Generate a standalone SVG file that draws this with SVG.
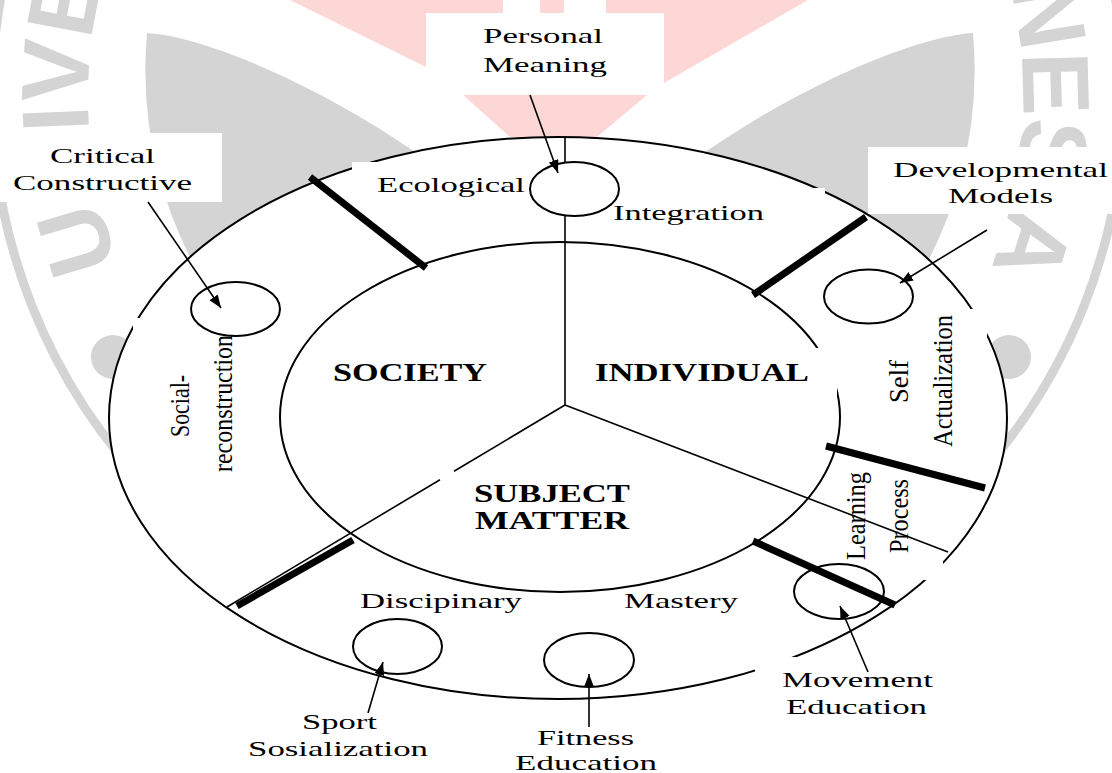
<svg xmlns="http://www.w3.org/2000/svg" width="1112" height="773" viewBox="0 0 1112 773">
<defs>
<style>
.wm{fill:#d4d4d4}
.pk{fill:#fdd6d6}
.box{fill:#fff;stroke:none}
.el{stroke:#000;fill:#fff;stroke-width:2}
.ln{stroke:#000;fill:none;stroke-width:1.6}
.bar{stroke:#000;stroke-width:7;fill:none}
.t{font-family:"Liberation Serif","Times New Roman",serif;font-size:22px;fill:#000}
.b{font-family:"Liberation Serif","Times New Roman",serif;font-size:25px;font-weight:bold;fill:#000}
.wt{font-family:"Liberation Sans",Arial,sans-serif;font-size:95px;font-weight:bold;fill:#d4d4d4;text-anchor:middle}
.arr{stroke:#000;stroke-width:1.6;fill:none;marker-end:url(#ah)}
</style>
<marker id="ah" markerUnits="userSpaceOnUse" markerWidth="14" markerHeight="12" refX="13" refY="5" orient="auto"><path d="M0,0 L13,5 L0,10 z" fill="#000"/></marker>
</defs>
<rect width="1112" height="773" fill="#fff"/>
<g id="watermark">
<circle cx="558" cy="97" r="566" fill="none" stroke="#d4d4d4" stroke-width="9"/>
<circle cx="113" cy="357" r="22" class="wm"/>
<circle cx="1009" cy="357" r="22" class="wm"/>
<path class="wm" d="M147,33 C200,36 310,80 415,152 L430,300 L215,300 A415,415 0 0,1 147,33 Z"/>
<path class="wm" d="M973,33 C920,36 810,80 705,152 L690,300 L905,300 A415,415 0 0,0 973,33 Z"/>
<polygon class="pk" points="290,0 808,0 664,83 426,67"/>
<rect x="503" y="0" width="37" height="14" fill="#fff"/>
<rect x="564" y="0" width="42" height="14" fill="#fff"/>
<polygon class="pk" points="463,95 647,95 597,137 560,150 510,137"/>
<text class="wt" x="107.6" y="231.3" transform="rotate(253.4 107.6 231.3)">U</text>
<text class="wt" x="88.4" y="117.5" transform="rotate(267.5 88.4 117.5)">I</text>
<text class="wt" x="88.6" y="72.7" transform="rotate(272.96 88.6 72.7)">V</text>
<text class="wt" x="96.3" y="9.3" transform="rotate(280.76 96.3 9.3)">E</text>
<text class="wt" x="1016.4" y="19.2" transform="rotate(80.37 1016.4 19.2)">N</text>
<text class="wt" x="1022.8" y="84.4" transform="rotate(88.45 1022.8 84.4)">E</text>
<text class="wt" x="1020.2" y="147.6" transform="rotate(96.25 1020.2 147.6)">S</text>
<text class="wt" x="1001.9" y="235.4" transform="rotate(107.31 1001.9 235.4)">A</text>
</g>
<g id="wheel">
<ellipse id="outer-ring" cx="558" cy="418" rx="449" ry="281" class="el"/>
<ellipse id="inner-core" cx="560" cy="417" rx="280" ry="175" class="el"/>
</g>
<g id="personal-meaning-label"><rect class="box" x="426" y="13" width="238" height="82"/>
<text class="t" x="483" y="43" textLength="120" lengthAdjust="spacingAndGlyphs">Personal</text>
<text class="t" x="483" y="72" textLength="124" lengthAdjust="spacingAndGlyphs">Meaning</text></g>
<g id="critical-constructive-label"><rect class="box" x="0" y="133" width="222" height="69"/>
<text class="t" x="50" y="163" textLength="105" lengthAdjust="spacingAndGlyphs">Critical</text>
<text class="t" x="13" y="190" textLength="179" lengthAdjust="spacingAndGlyphs">Constructive</text></g>
<g id="developmental-models-label"><rect class="box" x="868" y="147" width="244" height="67"/>
<text class="t" x="893" y="177" textLength="215" lengthAdjust="spacingAndGlyphs">Developmental</text>
<text class="t" x="948" y="203" textLength="105" lengthAdjust="spacingAndGlyphs">Models</text></g>
<g id="ecological"><rect class="box" x="352" y="162" width="176" height="42"/>
<text class="t" x="377" y="192" textLength="148" lengthAdjust="spacingAndGlyphs">Ecological</text></g>
<g id="integration"><rect class="box" x="600" y="188" width="225" height="40"/>
<text class="t" x="613" y="220" textLength="151" lengthAdjust="spacingAndGlyphs">Integration</text></g>
<g id="social-reconstruction"><rect class="box" x="133" y="318" width="117" height="160"/>
<text class="t" transform="translate(189,437) scale(1.2,1) rotate(-90)" textLength="62" lengthAdjust="spacingAndGlyphs">Social-</text>
<text class="t" transform="translate(232,472) scale(1.2,1) rotate(-90)" textLength="137" lengthAdjust="spacingAndGlyphs">reconstruction</text></g>
<g id="self-actualization"><rect class="box" x="880" y="309" width="107" height="186"/>
<text class="t" transform="translate(908,403) scale(1.2,1) rotate(-90)" textLength="43" lengthAdjust="spacingAndGlyphs">Self</text>
<text class="t" transform="translate(952,447) scale(1.2,1) rotate(-90)" textLength="132" lengthAdjust="spacingAndGlyphs">Actualization</text></g>
<g id="learning-process"><rect class="box" x="840" y="470" width="103" height="110"/>
<text class="t" transform="translate(865,560) scale(1.2,1) rotate(-90)" textLength="88" lengthAdjust="spacingAndGlyphs">Learning</text>
<text class="t" transform="translate(908,553) scale(1.2,1) rotate(-90)" textLength="74" lengthAdjust="spacingAndGlyphs">Process</text></g>
<g id="society"><text class="b" x="333" y="381" textLength="154" lengthAdjust="spacingAndGlyphs">SOCIETY</text></g>
<g id="individual"><rect class="box" x="585" y="348" width="252" height="50"/>
<text class="b" x="595" y="381" textLength="214" lengthAdjust="spacingAndGlyphs">INDIVIDUAL</text></g>
<g id="subject-matter">
<text class="b" x="474" y="502" textLength="156" lengthAdjust="spacingAndGlyphs">SUBJECT</text>
<text class="b" x="475" y="529" textLength="154" lengthAdjust="spacingAndGlyphs">MATTER</text></g>
<g id="discipinary"><text class="t" x="360" y="608" textLength="162" lengthAdjust="spacingAndGlyphs">Discipinary</text></g>
<g id="mastery"><text class="t" x="624" y="608" textLength="114" lengthAdjust="spacingAndGlyphs">Mastery</text></g>
<g id="sport-sosialization-label">
<text class="t" x="302" y="729" textLength="75" lengthAdjust="spacingAndGlyphs">Sport</text>
<text class="t" x="248" y="756" textLength="180" lengthAdjust="spacingAndGlyphs">Sosialization</text></g>
<g id="fitness-education-label">
<text class="t" x="537" y="745" textLength="97" lengthAdjust="spacingAndGlyphs">Fitness</text>
<text class="t" x="515" y="770" textLength="142" lengthAdjust="spacingAndGlyphs">Education</text></g>
<g id="movement-education-label"><rect class="box" x="755" y="657" width="185" height="63"/>
<text class="t" x="782" y="687" textLength="151" lengthAdjust="spacingAndGlyphs">Movement</text>
<text class="t" x="786" y="714" textLength="141" lengthAdjust="spacingAndGlyphs">Education</text></g>
<g id="dividers">
<line class="ln" x1="565" y1="137" x2="565" y2="405"/>
<line class="ln" x1="565" y1="405" x2="454" y2="471.3"/>
<line class="ln" x1="440" y1="479.7" x2="227" y2="607"/>
<line class="ln" x1="565" y1="405" x2="948" y2="552"/>
</g>
<g id="circle-personal-meaning"><ellipse class="el" cx="574.5" cy="189" rx="44.5" ry="27"/></g>
<g id="circle-critical-constructive"><ellipse class="el" cx="235.5" cy="309" rx="44.5" ry="27"/></g>
<g id="circle-developmental-models"><ellipse class="el" cx="868.5" cy="296.5" rx="44.5" ry="27"/></g>
<g id="circle-movement-education"><ellipse class="el" cx="839" cy="591.5" rx="45" ry="27.5"/></g>
<g id="circle-fitness-education"><ellipse class="el" cx="589" cy="660" rx="45" ry="27"/></g>
<g id="circle-sport-sosialization"><ellipse class="el" cx="397.5" cy="646.5" rx="44.5" ry="27.5"/></g>
<g id="boundaries">
<line class="bar" x1="310" y1="177" x2="426" y2="268"/>
<line class="bar" x1="866" y1="217" x2="753" y2="295"/>
<line class="bar" x1="826" y1="446" x2="985" y2="488"/>
<line class="bar" x1="753" y1="541" x2="895" y2="605"/>
<line class="bar" x1="237" y1="606" x2="353" y2="540"/>
</g>
<g id="connectors">
<line class="arr" x1="530" y1="95" x2="558" y2="173"/>
<line class="arr" x1="148" y1="202" x2="221" y2="308"/>
<line class="arr" x1="987" y1="230" x2="900" y2="283"/>
<line class="arr" x1="868" y1="672" x2="840" y2="606"/>
<line class="arr" x1="589" y1="727" x2="589" y2="674"/>
<line class="arr" x1="368" y1="713" x2="383" y2="662"/>
</g>
</svg>
